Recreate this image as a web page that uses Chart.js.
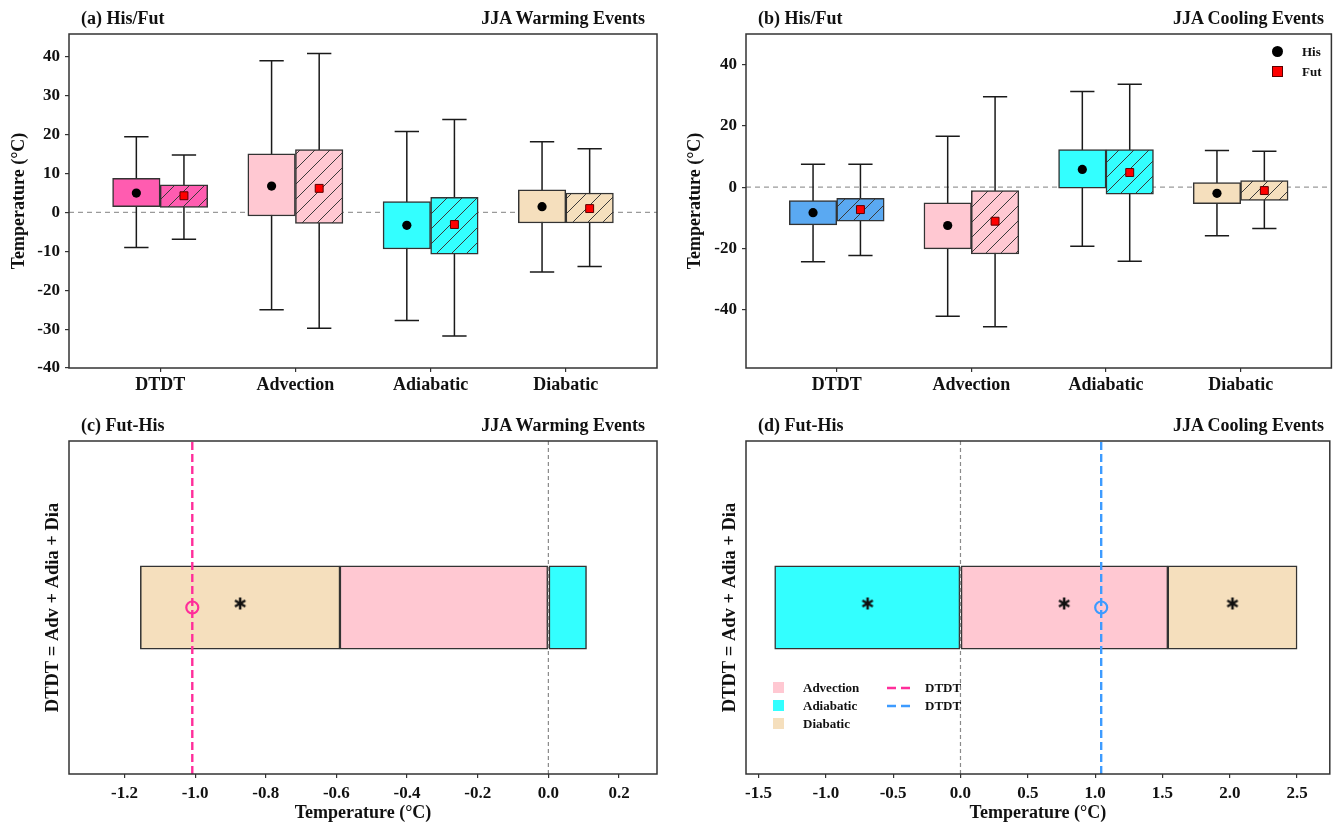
<!DOCTYPE html>
<html>
<head>
<meta charset="utf-8">
<script src="https://cdn.jsdelivr.net/npm/chart.js@4.4.0/dist/chart.umd.min.js"></script>
<style>
  body { margin: 0; background: #fff; }
  #fig { position: relative; width: 1338px; height: 825px; font-family: "Liberation Serif", "Times New Roman", serif; color: #111; }
  #fig canvas { position: absolute; }
  .ttl { position: absolute; font-weight: bold; font-size: 18px; line-height: 20px; white-space: nowrap; }
  .lg { position: absolute; font-weight: bold; font-size: 13px; line-height: 14px; white-space: nowrap; }
  .sw { position: absolute; }
</style>
</head>
<body>
<div id="fig">
  <canvas id="ca" width="669" height="410" style="left:0;top:0"></canvas>
  <canvas id="cb" width="669" height="410" style="left:669px;top:0"></canvas>
  <canvas id="cc" width="669" height="415" style="left:0;top:410px"></canvas>
  <canvas id="cd" width="669" height="415" style="left:669px;top:410px"></canvas>

  <div class="ttl" style="left:81px;top:8px">(a) His/Fut</div>
  <div class="ttl" style="right:693px;top:8px">JJA Warming Events</div>
  <div class="ttl" style="left:758px;top:8px">(b) His/Fut</div>
  <div class="ttl" style="right:14px;top:8px">JJA Cooling Events</div>
  <div class="ttl" style="left:81px;top:415px">(c) Fut-His</div>
  <div class="ttl" style="right:693px;top:415px">JJA Warming Events</div>
  <div class="ttl" style="left:758px;top:415px">(d) Fut-His</div>
  <div class="ttl" style="right:14px;top:415px">JJA Cooling Events</div>

  <!-- legend of (b) -->
  <div class="sw" style="left:1272px;top:46px;width:11px;height:11px;border-radius:50%;background:#000"></div>
  <div class="lg" style="left:1302px;top:45px">His</div>
  <div class="sw" style="left:1272px;top:66px;width:9px;height:9px;background:#ff0000;border:1px solid #5a0000"></div>
  <div class="lg" style="left:1302px;top:65px">Fut</div>

  <!-- legend of (d) -->
  <div class="sw" style="left:773px;top:682px;width:11px;height:11px;background:#ffc8d2"></div>
  <div class="lg" style="left:803px;top:681px">Advection</div>
  <div class="sw" style="left:773px;top:700px;width:11px;height:11px;background:#33ffff"></div>
  <div class="lg" style="left:803px;top:699px">Adiabatic</div>
  <div class="sw" style="left:773px;top:718px;width:11px;height:11px;background:#f5dfbd"></div>
  <div class="lg" style="left:803px;top:717px">Diabatic</div>
  <svg class="sw" style="left:887px;top:682px" width="24" height="30">
    <line x1="0" y1="6" x2="23" y2="6" stroke="#ff2e9a" stroke-width="2.4" stroke-dasharray="9,5"/>
    <line x1="0" y1="24" x2="23" y2="24" stroke="#3d9bff" stroke-width="2.4" stroke-dasharray="9,5"/>
  </svg>
  <div class="lg" style="left:925px;top:681px">DTDT</div>
  <div class="lg" style="left:925px;top:699px">DTDT</div>
</div>

<script>
// ---- data ----
const CATS = ['DTDT', 'Advection', 'Adiabatic', 'Diabatic'];

// (a) JJA warming events, box = q1..q3, whiskers low..high, marker = mean
const WARM_HIS_LOW  = [-9.0, -25.0, -27.8, -15.3];
const WARM_HIS_Q1   = [1.5, -0.9, -9.4, -2.7];
const WARM_HIS_Q3   = [8.8, 15.1, 2.8, 5.8];
const WARM_HIS_HIGH = [19.5, 39.0, 20.8, 18.2];
const WARM_HIS_MEAN = [5.0, 6.8, -3.3, 1.5];
const WARM_FUT_LOW  = [-6.9, -29.8, -31.8, -13.9];
const WARM_FUT_Q1   = [1.3, -2.8, -10.7, -2.7];
const WARM_FUT_Q3   = [7.1, 16.2, 3.9, 5.0];
const WARM_FUT_HIGH = [14.8, 40.9, 23.9, 16.4];
const WARM_FUT_MEAN = [4.3, 6.2, -3.1, 1.0];

// (b) JJA cooling events
const COOL_HIS_LOW  = [-24.3, -42.1, -19.3, -15.8];
const COOL_HIS_Q1   = [-12.3, -20.1, -0.3, -5.4];
const COOL_HIS_Q3   = [-4.4, -5.1, 12.3, 1.5];
const COOL_HIS_HIGH = [7.5, 16.6, 31.2, 12.0];
const COOL_HIS_MEAN = [-8.3, -12.5, 5.8, -2.0];
const COOL_FUT_LOW  = [-22.3, -45.5, -24.2, -13.5];
const COOL_FUT_Q1   = [-11.1, -21.8, -2.3, -4.3];
const COOL_FUT_Q3   = [-3.6, -1.1, 12.3, 2.2];
const COOL_FUT_HIGH = [7.5, 29.5, 33.6, 11.7];
const COOL_FUT_MEAN = [-7.3, -11.1, 4.8, -1.1];

// (c)/(d) Fut-His change of each term, * = significant
const COMPS = ['Advection', 'Adiabatic', 'Diabatic'];
const WARM_DIFF = [-0.59, 0.108, -0.565];
const WARM_SIG  = [false, false, true];
const WARM_DTDT = -1.008;
const COOL_DIFF = [1.54, -1.38, 0.96];
const COOL_SIG  = [true, true, true];
const COOL_DTDT = 1.045;

// ---- styling ----
const PINK_DT = '#ff5cb0', BLUE_DT = '#5aa9f2';
const ADV_C = '#ffc8d2', ADIA_C = '#33ffff', DIA_C = '#f5dfbd';
const COMP_COLORS = [ADV_C, ADIA_C, DIA_C];
const X_MIN = -0.674, X_MAX = 3.674;
const SHIFT = 0.176, CAP = 0.09, BOX_W = 47.5, BAR_H = 83.3;

Chart.defaults.font.family = '"Liberation Serif", "Times New Roman", serif';
Chart.defaults.font.weight = 'bold';
Chart.defaults.color = '#111';
Chart.defaults.animation = false;

const frame = {
  id: 'frame',
  afterDatasetsDraw(c) {
    const a = c.chartArea, ctx = c.ctx;
    ctx.save();
    ctx.strokeStyle = '#333';
    ctx.lineWidth = 1.5;
    ctx.strokeRect(a.left, a.top, a.right - a.left, a.bottom - a.top);
    ctx.restore();
  }
};

function hatch(color) {
  const n = 15;
  const c = document.createElement('canvas');
  c.width = c.height = n;
  const g = c.getContext('2d');
  g.fillStyle = color; g.fillRect(0, 0, n, n);
  g.strokeStyle = '#3a3a3a'; g.lineWidth = 1;
  g.beginPath();
  g.moveTo(0, n); g.lineTo(n, 0);
  g.moveTo(-1, 1); g.lineTo(1, -1);
  g.moveTo(n - 1, n + 1); g.lineTo(n + 1, n - 1);
  g.stroke();
  return g.createPattern(c, 'repeat');
}

function starMark() {
  const c = document.createElement('canvas');
  c.width = c.height = 22;
  const g = c.getContext('2d');
  g.strokeStyle = '#111'; g.lineWidth = 2.5;
  const cx = 11, cy = 7, r = 6;
  for (let k = 0; k < 3; k++) {
    const a = Math.PI / 2 + k * Math.PI / 3;
    g.beginPath();
    g.moveTo(cx - r * Math.cos(a), cy - r * Math.sin(a));
    g.lineTo(cx + r * Math.cos(a), cy + r * Math.sin(a));
    g.stroke();
  }
  return c;
}

function whiskers(xs, low, high) {
  const pts = [];
  xs.forEach((x, i) => {
    pts.push({x: x - CAP, y: low[i]}, {x: x + CAP, y: low[i]}, {x, y: low[i]},
             {x, y: high[i]}, {x: x - CAP, y: high[i]}, {x: x + CAP, y: high[i]},
             {x, y: null});
  });
  return pts;
}

const tickGrid = { display: true, drawOnChartArea: false, offset: false, tickLength: 4, color: '#333', lineWidth: 1.2 };

function boxPanel(id, c) {
  const xh = CATS.map((_, i) => i - SHIFT);
  const xf = CATS.map((_, i) => i + SHIFT);
  const box = (xs, q1, q3) => xs.map((x, i) => ({x, y: [q1[i], q3[i]]}));
  const pts = (xs, v) => xs.map((x, i) => ({x, y: v[i]}));
  return new Chart(document.getElementById(id), {
    type: 'bar',
    data: { datasets: [
      { type: 'line', data: [{x: X_MIN, y: 0}, {x: X_MAX, y: 0}], borderColor: '#9a9a9a', borderWidth: 1.3,
        borderDash: [5, 4], pointRadius: 0, order: 10 },
      { type: 'line', data: whiskers(xh, c.his[0], c.his[3]).concat(whiskers(xf, c.fut[0], c.fut[3])),
        borderColor: '#1a1a1a', borderWidth: 1.5, pointRadius: 0, spanGaps: false, order: 5 },
      { label: 'His', data: box(xh, c.his[1], c.his[2]), backgroundColor: c.colors, borderColor: '#333',
        borderWidth: 1.5, borderSkipped: false, grouped: false, barThickness: BOX_W, order: 1 },
      { label: 'Fut', data: box(xf, c.fut[1], c.fut[2]), backgroundColor: c.colors.map(hatch), borderColor: '#333',
        borderWidth: 1.5, borderSkipped: false, grouped: false, barThickness: BOX_W, order: 1 },
      { type: 'scatter', data: pts(xh, c.his[4]), pointStyle: 'circle', pointRadius: 4.6,
        backgroundColor: '#000', borderWidth: 0, order: -1 },
      { type: 'scatter', data: pts(xf, c.fut[4]), pointStyle: 'rect', pointRadius: 5.6,
        backgroundColor: '#ff0000', borderColor: '#5a0000', borderWidth: 1, order: -2 }
    ]},
    options: {
      responsive: false, events: [],
      layout: { padding: c.pad },
      plugins: { legend: { display: false }, tooltip: { enabled: false } },
      scales: {
        x: { type: 'linear', min: X_MIN, max: X_MAX, offset: false, grid: tickGrid, border: { display: false },
             afterBuildTicks: s => { s.ticks = CATS.map((_, i) => ({value: i})); },
             afterFit: s => { s.height = 42; },
             ticks: { autoSkip: false, maxRotation: 0, padding: 3, font: { size: 18 }, callback: v => CATS[v] } },
        y: { type: 'linear', min: c.ymin, max: c.ymax, grid: tickGrid, border: { display: false },
             afterFit: s => { s.width = c.yw; },
             ticks: { stepSize: c.step, includeBounds: false, padding: 5, font: { size: 17 } },
             title: { display: true, text: 'Temperature (°C)', font: { size: 18 }, padding: { top: c.tpad, bottom: 0 } } }
      }
    },
    plugins: [frame]
  });
}

function stackRanges(vals) {
  let pos = 0, neg = 0;
  return vals.map(v => {
    if (v >= 0) { const r = [pos, pos + v]; pos += v; return r; }
    const r = [neg + v, neg]; neg += v; return r;
  });
}

function diffPanel(id, c) {
  const segs = stackRanges(c.diff);
  const bars = COMPS.map((name, k) => ({
    label: name, data: [{x: segs[k], y: 0}], backgroundColor: COMP_COLORS[k], borderColor: '#333',
    borderWidth: 1.5, borderSkipped: false, grouped: false, barThickness: BAR_H, order: 5
  }));
  const stars = segs.filter((s, k) => c.sig[k]).map(s => ({x: (s[0] + s[1]) / 2, y: 0}));
  return new Chart(document.getElementById(id), {
    type: 'bar',
    data: { datasets: bars.concat([
      { type: 'line', data: [{x: 0, y: -1}, {x: 0, y: 1}], borderColor: '#8a8a8a', borderWidth: 1.2,
        borderDash: [4, 3], pointRadius: 0, order: 2 },
      { type: 'line', label: 'DTDT', data: [{x: c.dtdt, y: -1}, {x: c.dtdt, y: 1}], borderColor: c.lineColor,
        borderWidth: 2.4, borderDash: [8, 4], pointRadius: 0, order: 1 },
      { type: 'scatter', data: [{x: c.dtdt, y: 0}], pointStyle: 'circle', pointRadius: 6, borderWidth: 2.2,
        borderColor: c.lineColor, backgroundColor: 'rgba(0,0,0,0)', order: -1 },
      { type: 'scatter', data: stars, pointStyle: starMark(), order: -2 }
    ])},
    options: {
      indexAxis: 'y',
      responsive: false, events: [],
      layout: { padding: c.pad },
      plugins: { legend: { display: false }, tooltip: { enabled: false } },
      scales: {
        x: { type: 'linear', min: c.xmin, max: c.xmax, offset: false, grid: tickGrid, border: { display: false },
             afterFit: s => { s.height = 51; },
             ticks: { stepSize: c.step, includeBounds: false, padding: 5, maxRotation: 0, font: { size: 17 },
                      callback: v => v.toFixed(1) },
             title: { display: true, text: 'Temperature (°C)', font: { size: 18 }, padding: { top: 0, bottom: 1 } } },
        y: { type: 'linear', min: -1, max: 1, offset: false, grid: { display: false }, border: { display: false },
             ticks: { display: false },
             afterFit: s => { s.width = c.yw; },
             title: { display: true, text: 'DTDT = Adv + Adia + Dia', font: { size: 18.5 }, padding: { top: c.tpad, bottom: 0 } } }
      }
    },
    plugins: [frame]
  });
}

boxPanel('ca', {
  colors: [PINK_DT, ADV_C, ADIA_C, DIA_C],
  his: [WARM_HIS_LOW, WARM_HIS_Q1, WARM_HIS_Q3, WARM_HIS_HIGH, WARM_HIS_MEAN],
  fut: [WARM_FUT_LOW, WARM_FUT_Q1, WARM_FUT_Q3, WARM_FUT_HIGH, WARM_FUT_MEAN],
  ymin: -40, ymax: 45.9, step: 10, yw: 69, tpad: 9,
  pad: { top: 34, right: 12, left: 0, bottom: 0 }
});

boxPanel('cb', {
  colors: [BLUE_DT, ADV_C, ADIA_C, DIA_C],
  his: [COOL_HIS_LOW, COOL_HIS_Q1, COOL_HIS_Q3, COOL_HIS_HIGH, COOL_HIS_MEAN],
  fut: [COOL_FUT_LOW, COOL_FUT_Q1, COOL_FUT_Q3, COOL_FUT_HIGH, COOL_FUT_MEAN],
  ymin: -59, ymax: 50, step: 20, yw: 77, tpad: 16,
  pad: { top: 34, right: 3, left: 0, bottom: 0 }
});

diffPanel('cc', {
  diff: WARM_DIFF, sig: WARM_SIG, dtdt: WARM_DTDT, lineColor: '#ff2e9a',
  xmin: -1.357, xmax: 0.3075, step: 0.2, yw: 69, tpad: 42,
  pad: { top: 31, right: 12, left: 0, bottom: 0 }
});

diffPanel('cd', {
  diff: COOL_DIFF, sig: COOL_SIG, dtdt: COOL_DTDT, lineColor: '#3d9bff',
  xmin: -1.593, xmax: 2.743, step: 0.5, yw: 77, tpad: 50,
  pad: { top: 31, right: 3, left: 0, bottom: 0 }
});
</script>
</body>
</html>
